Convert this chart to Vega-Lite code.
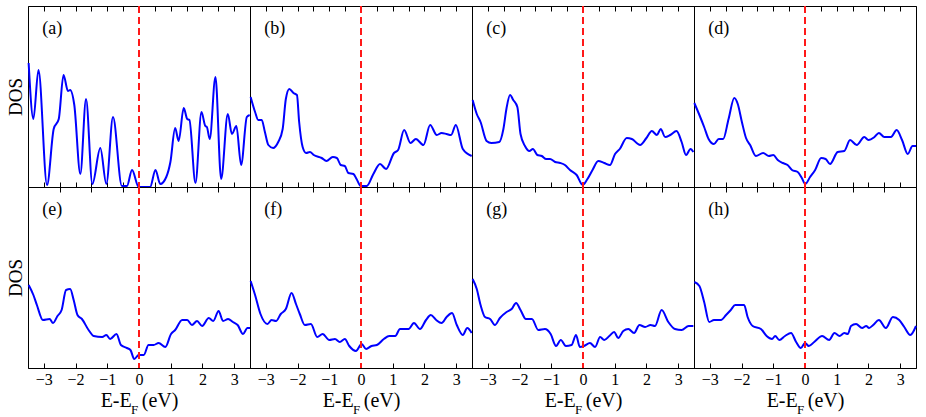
{
"$schema": "https://vega.github.io/schema/vega-lite/v6.json",
"padding": {"left": 5, "top": 4, "right": 8, "bottom": 5},
"background": "white",
"bounds": "flush",
"columns": 4,
"spacing": 0,
"config": {
  "font": "Liberation Serif",
  "view": {"stroke": "#000", "strokeWidth": 1},
  "concat": {"spacing": 0},
  "axis": {"labelFont": "Liberation Serif", "titleFont": "Liberation Serif", "labelColor": "#000", "titleColor": "#000", "titleFontWeight": "normal", "domainColor": "#000", "tickColor": "#000", "grid": false},
  "line": {"color": "#0000ff", "strokeWidth": 2, "interpolate": "monotone", "clip": true},
  "rule": {"color": "#ff1a1a", "strokeDash": [7, 4], "strokeWidth": 1.5},
  "text": {"font": "Liberation Serif", "color": "#000"}
},
"data": {"name": "dos"},
"datasets": {
"dos": [
{"panel":"(a)","E":-3.48,"DOS":124},{"panel":"(a)","E":-3.33,"DOS":68},{"panel":"(a)","E":-3.17,"DOS":117},{"panel":"(a)","E":-2.9,"DOS":2},{"panel":"(a)","E":-2.69,"DOS":58},{"panel":"(a)","E":-2.53,"DOS":68},{"panel":"(a)","E":-2.38,"DOS":112},{"panel":"(a)","E":-2.24,"DOS":96},{"panel":"(a)","E":-2.17,"DOS":97},{"panel":"(a)","E":-2.04,"DOS":82},{"panel":"(a)","E":-1.85,"DOS":13},{"panel":"(a)","E":-1.67,"DOS":88},{"panel":"(a)","E":-1.47,"DOS":3},{"panel":"(a)","E":-1.22,"DOS":39},{"panel":"(a)","E":-1.03,"DOS":3},{"panel":"(a)","E":-0.82,"DOS":70},{"panel":"(a)","E":-0.54,"DOS":1},{"panel":"(a)","E":-0.38,"DOS":1},{"panel":"(a)","E":-0.22,"DOS":17},{"panel":"(a)","E":-0.01,"DOS":0},{"panel":"(a)","E":0.35,"DOS":0},{"panel":"(a)","E":0.52,"DOS":17},{"panel":"(a)","E":0.67,"DOS":3},{"panel":"(a)","E":0.86,"DOS":10},{"panel":"(a)","E":0.99,"DOS":25},{"panel":"(a)","E":1.14,"DOS":59},{"panel":"(a)","E":1.25,"DOS":46},{"panel":"(a)","E":1.41,"DOS":79},{"panel":"(a)","E":1.52,"DOS":68},{"panel":"(a)","E":1.59,"DOS":67},{"panel":"(a)","E":1.78,"DOS":4},{"panel":"(a)","E":1.97,"DOS":75},{"panel":"(a)","E":2.09,"DOS":61},{"panel":"(a)","E":2.14,"DOS":60},{"panel":"(a)","E":2.23,"DOS":48},{"panel":"(a)","E":2.41,"DOS":110},{"panel":"(a)","E":2.59,"DOS":8},{"panel":"(a)","E":2.8,"DOS":73},{"panel":"(a)","E":2.93,"DOS":53},{"panel":"(a)","E":3.07,"DOS":61},{"panel":"(a)","E":3.22,"DOS":22},{"panel":"(a)","E":3.4,"DOS":70},{"panel":"(a)","E":3.49,"DOS":72},
{"panel":"(b)","E":-3.48,"DOS":90},{"panel":"(b)","E":-3.34,"DOS":75},{"panel":"(b)","E":-3.24,"DOS":67},{"panel":"(b)","E":-3.13,"DOS":67},{"panel":"(b)","E":-3.03,"DOS":55},{"panel":"(b)","E":-2.92,"DOS":42},{"panel":"(b)","E":-2.77,"DOS":39},{"panel":"(b)","E":-2.61,"DOS":45},{"panel":"(b)","E":-2.47,"DOS":58},{"panel":"(b)","E":-2.37,"DOS":88},{"panel":"(b)","E":-2.26,"DOS":98},{"panel":"(b)","E":-2.13,"DOS":94},{"panel":"(b)","E":-2.02,"DOS":92},{"panel":"(b)","E":-1.95,"DOS":65},{"panel":"(b)","E":-1.84,"DOS":40},{"panel":"(b)","E":-1.73,"DOS":34},{"panel":"(b)","E":-1.61,"DOS":35},{"panel":"(b)","E":-1.49,"DOS":32},{"panel":"(b)","E":-1.24,"DOS":29},{"panel":"(b)","E":-1.09,"DOS":26},{"panel":"(b)","E":-0.89,"DOS":30},{"panel":"(b)","E":-0.76,"DOS":29},{"panel":"(b)","E":-0.64,"DOS":22},{"panel":"(b)","E":-0.51,"DOS":21},{"panel":"(b)","E":-0.4,"DOS":14},{"panel":"(b)","E":-0.24,"DOS":13},{"panel":"(b)","E":-0.14,"DOS":8},{"panel":"(b)","E":-0.01,"DOS":1},{"panel":"(b)","E":0.18,"DOS":1},{"panel":"(b)","E":0.39,"DOS":13},{"panel":"(b)","E":0.6,"DOS":23},{"panel":"(b)","E":0.79,"DOS":18},{"panel":"(b)","E":1.04,"DOS":34},{"panel":"(b)","E":1.17,"DOS":37},{"panel":"(b)","E":1.36,"DOS":57},{"panel":"(b)","E":1.56,"DOS":44},{"panel":"(b)","E":1.73,"DOS":48},{"panel":"(b)","E":1.97,"DOS":42},{"panel":"(b)","E":2.18,"DOS":62},{"panel":"(b)","E":2.39,"DOS":52},{"panel":"(b)","E":2.54,"DOS":54},{"panel":"(b)","E":2.7,"DOS":53},{"panel":"(b)","E":2.84,"DOS":52},{"panel":"(b)","E":2.99,"DOS":62},{"panel":"(b)","E":3.21,"DOS":38},{"panel":"(b)","E":3.49,"DOS":31},
{"panel":"(c)","E":-3.48,"DOS":87},{"panel":"(c)","E":-3.35,"DOS":73},{"panel":"(c)","E":-3.23,"DOS":65},{"panel":"(c)","E":-3.04,"DOS":46},{"panel":"(c)","E":-2.89,"DOS":44},{"panel":"(c)","E":-2.64,"DOS":45},{"panel":"(c)","E":-2.51,"DOS":58},{"panel":"(c)","E":-2.41,"DOS":79},{"panel":"(c)","E":-2.3,"DOS":92},{"panel":"(c)","E":-2.2,"DOS":87},{"panel":"(c)","E":-2.07,"DOS":80},{"panel":"(c)","E":-1.97,"DOS":53},{"panel":"(c)","E":-1.83,"DOS":41},{"panel":"(c)","E":-1.69,"DOS":36},{"panel":"(c)","E":-1.58,"DOS":38},{"panel":"(c)","E":-1.44,"DOS":32},{"panel":"(c)","E":-1.3,"DOS":31},{"panel":"(c)","E":-1.16,"DOS":28},{"panel":"(c)","E":-1.04,"DOS":28},{"panel":"(c)","E":-0.88,"DOS":25},{"panel":"(c)","E":-0.72,"DOS":24},{"panel":"(c)","E":-0.57,"DOS":22},{"panel":"(c)","E":-0.41,"DOS":17},{"panel":"(c)","E":-0.2,"DOS":12},{"panel":"(c)","E":-0.01,"DOS":2},{"panel":"(c)","E":0.12,"DOS":7},{"panel":"(c)","E":0.3,"DOS":17},{"panel":"(c)","E":0.48,"DOS":26},{"panel":"(c)","E":0.67,"DOS":24},{"panel":"(c)","E":0.85,"DOS":22},{"panel":"(c)","E":1.01,"DOS":33},{"panel":"(c)","E":1.16,"DOS":38},{"panel":"(c)","E":1.38,"DOS":49},{"panel":"(c)","E":1.54,"DOS":48},{"panel":"(c)","E":1.8,"DOS":42},{"panel":"(c)","E":2.0,"DOS":49},{"panel":"(c)","E":2.17,"DOS":56},{"panel":"(c)","E":2.33,"DOS":52},{"panel":"(c)","E":2.45,"DOS":58},{"panel":"(c)","E":2.59,"DOS":50},{"panel":"(c)","E":2.75,"DOS":52},{"panel":"(c)","E":2.95,"DOS":56},{"panel":"(c)","E":3.11,"DOS":45},{"panel":"(c)","E":3.25,"DOS":32},{"panel":"(c)","E":3.39,"DOS":38},{"panel":"(c)","E":3.48,"DOS":35},
{"panel":"(d)","E":-3.49,"DOS":84},{"panel":"(d)","E":-3.33,"DOS":72},{"panel":"(d)","E":-3.18,"DOS":60},{"panel":"(d)","E":-3.04,"DOS":48},{"panel":"(d)","E":-2.87,"DOS":43},{"panel":"(d)","E":-2.72,"DOS":48},{"panel":"(d)","E":-2.58,"DOS":48},{"panel":"(d)","E":-2.41,"DOS":68},{"panel":"(d)","E":-2.23,"DOS":89},{"panel":"(d)","E":-2.12,"DOS":83},{"panel":"(d)","E":-1.99,"DOS":65},{"panel":"(d)","E":-1.86,"DOS":49},{"panel":"(d)","E":-1.73,"DOS":42},{"panel":"(d)","E":-1.55,"DOS":31},{"panel":"(d)","E":-1.32,"DOS":34},{"panel":"(d)","E":-1.14,"DOS":31},{"panel":"(d)","E":-1.0,"DOS":32},{"panel":"(d)","E":-0.86,"DOS":27},{"panel":"(d)","E":-0.7,"DOS":24},{"panel":"(d)","E":-0.55,"DOS":22},{"panel":"(d)","E":-0.41,"DOS":17},{"panel":"(d)","E":-0.23,"DOS":15},{"panel":"(d)","E":-0.1,"DOS":9},{"panel":"(d)","E":0.01,"DOS":3},{"panel":"(d)","E":0.16,"DOS":10},{"panel":"(d)","E":0.32,"DOS":17},{"panel":"(d)","E":0.51,"DOS":29},{"panel":"(d)","E":0.65,"DOS":28},{"panel":"(d)","E":0.79,"DOS":23},{"panel":"(d)","E":1.03,"DOS":35},{"panel":"(d)","E":1.24,"DOS":36},{"panel":"(d)","E":1.42,"DOS":47},{"panel":"(d)","E":1.63,"DOS":42},{"panel":"(d)","E":1.87,"DOS":50},{"panel":"(d)","E":2.0,"DOS":47},{"panel":"(d)","E":2.19,"DOS":50},{"panel":"(d)","E":2.33,"DOS":54},{"panel":"(d)","E":2.5,"DOS":50},{"panel":"(d)","E":2.71,"DOS":50},{"panel":"(d)","E":2.89,"DOS":57},{"panel":"(d)","E":3.06,"DOS":47},{"panel":"(d)","E":3.24,"DOS":33},{"panel":"(d)","E":3.39,"DOS":41},{"panel":"(d)","E":3.5,"DOS":41},
{"panel":"(e)","E":-3.48,"DOS":83},{"panel":"(e)","E":-3.33,"DOS":73},{"panel":"(e)","E":-3.22,"DOS":63},{"panel":"(e)","E":-3.03,"DOS":48},{"panel":"(e)","E":-2.82,"DOS":49},{"panel":"(e)","E":-2.71,"DOS":45},{"panel":"(e)","E":-2.57,"DOS":52},{"panel":"(e)","E":-2.44,"DOS":58},{"panel":"(e)","E":-2.3,"DOS":78},{"panel":"(e)","E":-2.17,"DOS":79},{"panel":"(e)","E":-2.06,"DOS":68},{"panel":"(e)","E":-1.94,"DOS":53},{"panel":"(e)","E":-1.8,"DOS":49},{"panel":"(e)","E":-1.59,"DOS":38},{"panel":"(e)","E":-1.43,"DOS":32},{"panel":"(e)","E":-1.16,"DOS":31},{"panel":"(e)","E":-1.03,"DOS":33},{"panel":"(e)","E":-0.91,"DOS":29},{"panel":"(e)","E":-0.71,"DOS":34},{"panel":"(e)","E":-0.57,"DOS":23},{"panel":"(e)","E":-0.38,"DOS":20},{"panel":"(e)","E":-0.27,"DOS":18},{"panel":"(e)","E":-0.15,"DOS":9},{"panel":"(e)","E":-0.01,"DOS":13},{"panel":"(e)","E":0.15,"DOS":13},{"panel":"(e)","E":0.3,"DOS":23},{"panel":"(e)","E":0.46,"DOS":23},{"panel":"(e)","E":0.62,"DOS":25},{"panel":"(e)","E":0.83,"DOS":21},{"panel":"(e)","E":1.01,"DOS":34},{"panel":"(e)","E":1.14,"DOS":38},{"panel":"(e)","E":1.36,"DOS":48},{"panel":"(e)","E":1.52,"DOS":48},{"panel":"(e)","E":1.67,"DOS":43},{"panel":"(e)","E":1.83,"DOS":47},{"panel":"(e)","E":1.99,"DOS":42},{"panel":"(e)","E":2.2,"DOS":50},{"panel":"(e)","E":2.34,"DOS":47},{"panel":"(e)","E":2.51,"DOS":57},{"panel":"(e)","E":2.65,"DOS":47},{"panel":"(e)","E":2.81,"DOS":49},{"panel":"(e)","E":2.96,"DOS":46},{"panel":"(e)","E":3.11,"DOS":43},{"panel":"(e)","E":3.28,"DOS":34},{"panel":"(e)","E":3.42,"DOS":40},{"panel":"(e)","E":3.5,"DOS":40},
{"panel":"(f)","E":-3.48,"DOS":87},{"panel":"(f)","E":-3.34,"DOS":73},{"panel":"(f)","E":-3.17,"DOS":54},{"panel":"(f)","E":-2.95,"DOS":44},{"panel":"(f)","E":-2.82,"DOS":48},{"panel":"(f)","E":-2.68,"DOS":47},{"panel":"(f)","E":-2.53,"DOS":54},{"panel":"(f)","E":-2.37,"DOS":59},{"panel":"(f)","E":-2.19,"DOS":75},{"panel":"(f)","E":-2.05,"DOS":64},{"panel":"(f)","E":-1.93,"DOS":54},{"panel":"(f)","E":-1.77,"DOS":43},{"panel":"(f)","E":-1.58,"DOS":44},{"panel":"(f)","E":-1.38,"DOS":31},{"panel":"(f)","E":-1.21,"DOS":34},{"panel":"(f)","E":-1.0,"DOS":28},{"panel":"(f)","E":-0.82,"DOS":29},{"panel":"(f)","E":-0.67,"DOS":26},{"panel":"(f)","E":-0.51,"DOS":29},{"panel":"(f)","E":-0.37,"DOS":22},{"panel":"(f)","E":-0.16,"DOS":17},{"panel":"(f)","E":0.02,"DOS":24},{"panel":"(f)","E":0.16,"DOS":19},{"panel":"(f)","E":0.33,"DOS":22},{"panel":"(f)","E":0.5,"DOS":23},{"panel":"(f)","E":0.72,"DOS":29},{"panel":"(f)","E":0.89,"DOS":32},{"panel":"(f)","E":1.08,"DOS":32},{"panel":"(f)","E":1.23,"DOS":39},{"panel":"(f)","E":1.39,"DOS":39},{"panel":"(f)","E":1.5,"DOS":39},{"panel":"(f)","E":1.67,"DOS":45},{"panel":"(f)","E":1.86,"DOS":39},{"panel":"(f)","E":2.05,"DOS":48},{"panel":"(f)","E":2.2,"DOS":53},{"panel":"(f)","E":2.37,"DOS":48},{"panel":"(f)","E":2.54,"DOS":45},{"panel":"(f)","E":2.7,"DOS":51},{"panel":"(f)","E":2.87,"DOS":55},{"panel":"(f)","E":3.02,"DOS":43},{"panel":"(f)","E":3.21,"DOS":33},{"panel":"(f)","E":3.35,"DOS":40},{"panel":"(f)","E":3.49,"DOS":35},
{"panel":"(g)","E":-3.48,"DOS":89},{"panel":"(g)","E":-3.35,"DOS":79},{"panel":"(g)","E":-3.23,"DOS":63},{"panel":"(g)","E":-3.09,"DOS":51},{"panel":"(g)","E":-2.93,"DOS":49},{"panel":"(g)","E":-2.78,"DOS":43},{"panel":"(g)","E":-2.62,"DOS":50},{"panel":"(g)","E":-2.41,"DOS":56},{"panel":"(g)","E":-2.25,"DOS":59},{"panel":"(g)","E":-2.11,"DOS":65},{"panel":"(g)","E":-1.97,"DOS":58},{"panel":"(g)","E":-1.8,"DOS":49},{"panel":"(g)","E":-1.61,"DOS":49},{"panel":"(g)","E":-1.41,"DOS":38},{"panel":"(g)","E":-1.2,"DOS":39},{"panel":"(g)","E":-1.02,"DOS":34},{"panel":"(g)","E":-0.85,"DOS":22},{"panel":"(g)","E":-0.7,"DOS":28},{"panel":"(g)","E":-0.54,"DOS":22},{"panel":"(g)","E":-0.36,"DOS":23},{"panel":"(g)","E":-0.22,"DOS":33},{"panel":"(g)","E":-0.1,"DOS":21},{"panel":"(g)","E":0.03,"DOS":22},{"panel":"(g)","E":0.22,"DOS":25},{"panel":"(g)","E":0.38,"DOS":21},{"panel":"(g)","E":0.54,"DOS":31},{"panel":"(g)","E":0.67,"DOS":28},{"panel":"(g)","E":0.83,"DOS":32},{"panel":"(g)","E":0.98,"DOS":36},{"panel":"(g)","E":1.11,"DOS":30},{"panel":"(g)","E":1.27,"DOS":37},{"panel":"(g)","E":1.43,"DOS":39},{"panel":"(g)","E":1.61,"DOS":35},{"panel":"(g)","E":1.78,"DOS":43},{"panel":"(g)","E":1.96,"DOS":41},{"panel":"(g)","E":2.13,"DOS":43},{"panel":"(g)","E":2.27,"DOS":42},{"panel":"(g)","E":2.48,"DOS":58},{"panel":"(g)","E":2.69,"DOS":46},{"panel":"(g)","E":2.9,"DOS":39},{"panel":"(g)","E":3.11,"DOS":38},{"panel":"(g)","E":3.33,"DOS":42},{"panel":"(g)","E":3.48,"DOS":42},
{"panel":"(h)","E":-3.49,"DOS":86},{"panel":"(h)","E":-3.33,"DOS":82},{"panel":"(h)","E":-3.18,"DOS":66},{"panel":"(h)","E":-3.02,"DOS":46},{"panel":"(h)","E":-2.87,"DOS":48},{"panel":"(h)","E":-2.65,"DOS":48},{"panel":"(h)","E":-2.49,"DOS":53},{"panel":"(h)","E":-2.34,"DOS":58},{"panel":"(h)","E":-2.2,"DOS":63},{"panel":"(h)","E":-2.05,"DOS":63},{"panel":"(h)","E":-1.92,"DOS":63},{"panel":"(h)","E":-1.81,"DOS":51},{"panel":"(h)","E":-1.65,"DOS":42},{"panel":"(h)","E":-1.39,"DOS":39},{"panel":"(h)","E":-1.21,"DOS":32},{"panel":"(h)","E":-1.04,"DOS":29},{"panel":"(h)","E":-0.94,"DOS":32},{"panel":"(h)","E":-0.81,"DOS":28},{"panel":"(h)","E":-0.63,"DOS":32},{"panel":"(h)","E":-0.44,"DOS":35},{"panel":"(h)","E":-0.28,"DOS":26},{"panel":"(h)","E":-0.13,"DOS":20},{"panel":"(h)","E":0.0,"DOS":25},{"panel":"(h)","E":0.12,"DOS":22},{"panel":"(h)","E":0.29,"DOS":26},{"panel":"(h)","E":0.54,"DOS":32},{"panel":"(h)","E":0.76,"DOS":28},{"panel":"(h)","E":0.93,"DOS":35},{"panel":"(h)","E":1.09,"DOS":32},{"panel":"(h)","E":1.24,"DOS":35},{"panel":"(h)","E":1.35,"DOS":34},{"panel":"(h)","E":1.45,"DOS":42},{"panel":"(h)","E":1.61,"DOS":44},{"panel":"(h)","E":1.8,"DOS":40},{"panel":"(h)","E":1.93,"DOS":42},{"panel":"(h)","E":2.02,"DOS":40},{"panel":"(h)","E":2.15,"DOS":43},{"panel":"(h)","E":2.33,"DOS":48},{"panel":"(h)","E":2.55,"DOS":40},{"panel":"(h)","E":2.77,"DOS":51},{"panel":"(h)","E":2.97,"DOS":48},{"panel":"(h)","E":3.13,"DOS":41},{"panel":"(h)","E":3.32,"DOS":33},{"panel":"(h)","E":3.5,"DOS":42}
]
},
"concat": [
 {"width": 222, "height": 181, "transform": [{"filter": {"field": "panel", "equal": "(a)"}}],
  "layer": [
   {"mark": "line", "encoding": {
     "x": {"field": "E", "type": "quantitative", "scale": {"domain": [-3.5, 3.5], "nice": false, "zero": false}, "axis": {"title": null, "labels": false, "values": [-3,-2.5,-2,-1.5,-1,-0.5,0,0.5,1,1.5,2,2.5,3], "tickSize": -5}},
     "y": {"field": "DOS", "type": "quantitative", "scale": {"domain": [0, 181], "nice": false}, "axis": {"title": "DOS", "labels": false, "ticks": false, "domain": false, "titleFontSize": 19, "titlePadding": 3}}}},
   {"mark": "rule", "encoding": {"x": {"datum": 0, "type": "quantitative", "axis": {"orient": "top", "title": null, "labels": false, "values": [-3,-2.5,-2,-1.5,-1,-0.5,0,0.5,1,1.5,2,2.5,3], "tickSize": -5}}}},
   {"transform": [{"aggregate": [{"op": "count", "as": "n"}], "groupby": ["panel"]}], "mark": {"type": "text", "align": "left", "baseline": "middle", "fontSize": 18},
    "encoding": {"x": {"datum": -3.05, "type": "quantitative", "axis": null}, "y": {"datum": 158, "type": "quantitative"}, "text": {"field": "panel"}}}
  ], "resolve": {"axis": {"x": "independent"}}},
 {"width": 222, "height": 181, "transform": [{"filter": {"field": "panel", "equal": "(b)"}}],
  "layer": [
   {"mark": "line", "encoding": {
     "x": {"field": "E", "type": "quantitative", "scale": {"domain": [-3.5, 3.5], "nice": false, "zero": false}, "axis": {"title": null, "labels": false, "values": [-3,-2.5,-2,-1.5,-1,-0.5,0,0.5,1,1.5,2,2.5,3], "tickSize": -5}},
     "y": {"field": "DOS", "type": "quantitative", "scale": {"domain": [0, 181], "nice": false}, "axis": null}}},
   {"mark": "rule", "encoding": {"x": {"datum": 0, "type": "quantitative", "axis": {"orient": "top", "title": null, "labels": false, "values": [-3,-2.5,-2,-1.5,-1,-0.5,0,0.5,1,1.5,2,2.5,3], "tickSize": -5}}}},
   {"transform": [{"aggregate": [{"op": "count", "as": "n"}], "groupby": ["panel"]}], "mark": {"type": "text", "align": "left", "baseline": "middle", "fontSize": 18},
    "encoding": {"x": {"datum": -3.05, "type": "quantitative", "axis": null}, "y": {"datum": 158, "type": "quantitative"}, "text": {"field": "panel"}}}
  ], "resolve": {"axis": {"x": "independent"}}},
 {"width": 222, "height": 181, "transform": [{"filter": {"field": "panel", "equal": "(c)"}}],
  "layer": [
   {"mark": "line", "encoding": {
     "x": {"field": "E", "type": "quantitative", "scale": {"domain": [-3.5, 3.5], "nice": false, "zero": false}, "axis": {"title": null, "labels": false, "values": [-3,-2.5,-2,-1.5,-1,-0.5,0,0.5,1,1.5,2,2.5,3], "tickSize": -5}},
     "y": {"field": "DOS", "type": "quantitative", "scale": {"domain": [0, 181], "nice": false}, "axis": null}}},
   {"mark": "rule", "encoding": {"x": {"datum": 0, "type": "quantitative", "axis": {"orient": "top", "title": null, "labels": false, "values": [-3,-2.5,-2,-1.5,-1,-0.5,0,0.5,1,1.5,2,2.5,3], "tickSize": -5}}}},
   {"transform": [{"aggregate": [{"op": "count", "as": "n"}], "groupby": ["panel"]}], "mark": {"type": "text", "align": "left", "baseline": "middle", "fontSize": 18},
    "encoding": {"x": {"datum": -3.05, "type": "quantitative", "axis": null}, "y": {"datum": 158, "type": "quantitative"}, "text": {"field": "panel"}}}
  ], "resolve": {"axis": {"x": "independent"}}},
 {"width": 222, "height": 181, "transform": [{"filter": {"field": "panel", "equal": "(d)"}}],
  "layer": [
   {"mark": "line", "encoding": {
     "x": {"field": "E", "type": "quantitative", "scale": {"domain": [-3.5, 3.5], "nice": false, "zero": false}, "axis": {"title": null, "labels": false, "values": [-3,-2.5,-2,-1.5,-1,-0.5,0,0.5,1,1.5,2,2.5,3], "tickSize": -5}},
     "y": {"field": "DOS", "type": "quantitative", "scale": {"domain": [0, 181], "nice": false}, "axis": null}}},
   {"mark": "rule", "encoding": {"x": {"datum": 0, "type": "quantitative", "axis": {"orient": "top", "title": null, "labels": false, "values": [-3,-2.5,-2,-1.5,-1,-0.5,0,0.5,1,1.5,2,2.5,3], "tickSize": -5}}}},
   {"transform": [{"aggregate": [{"op": "count", "as": "n"}], "groupby": ["panel"]}], "mark": {"type": "text", "align": "left", "baseline": "middle", "fontSize": 18},
    "encoding": {"x": {"datum": -3.05, "type": "quantitative", "axis": null}, "y": {"datum": 158, "type": "quantitative"}, "text": {"field": "panel"}}}
  ], "resolve": {"axis": {"x": "independent"}}},
 {"width": 222, "height": 181, "transform": [{"filter": {"field": "panel", "equal": "(e)"}}],
  "layer": [
   {"mark": "line", "encoding": {
     "x": {"field": "E", "type": "quantitative", "scale": {"domain": [-3.5, 3.5], "nice": false, "zero": false}, "axis": {"title": "E-E\u00a0\u00a0(eV)", "titleFontSize": 20, "labelFontSize": 16, "labelPadding": 8, "titlePadding": 3, "labelFlush": false, "labelOverlap": false, "values": [-3,-2,-1,0,1,2,3], "tickSize": -5}},
     "y": {"field": "DOS", "type": "quantitative", "scale": {"domain": [0, 181], "nice": false}, "axis": {"title": "DOS", "labels": false, "ticks": false, "domain": false, "titleFontSize": 19, "titlePadding": 3}}}},
   {"mark": "rule", "encoding": {"x": {"datum": 0, "type": "quantitative", "axis": {"title": null, "labels": false, "domain": false, "values": [-2.5,-1.5,-0.5,0.5,1.5,2.5], "tickSize": -5}}}},
   {"transform": [{"aggregate": [{"op": "count", "as": "n"}], "groupby": ["panel"]}], "mark": {"type": "text", "align": "left", "baseline": "middle", "fontSize": 18},
    "encoding": {"x": {"datum": -3.05, "type": "quantitative", "axis": null}, "y": {"datum": 158, "type": "quantitative"}, "text": {"field": "panel"}}},
   {"transform": [{"aggregate": [{"op": "count", "as": "n"}], "groupby": ["panel"]}], "mark": {"type": "text", "align": "left", "baseline": "alphabetic", "fontSize": 13, "dy": 46},
    "encoding": {"x": {"datum": -0.25, "type": "quantitative", "axis": null}, "y": {"datum": 0, "type": "quantitative"}, "text": {"value": "F"}}}
  ], "resolve": {"axis": {"x": "independent"}}},
 {"width": 222, "height": 181, "transform": [{"filter": {"field": "panel", "equal": "(f)"}}],
  "layer": [
   {"mark": "line", "encoding": {
     "x": {"field": "E", "type": "quantitative", "scale": {"domain": [-3.5, 3.5], "nice": false, "zero": false}, "axis": {"title": "E-E\u00a0\u00a0(eV)", "titleFontSize": 20, "labelFontSize": 16, "labelPadding": 8, "titlePadding": 3, "labelFlush": false, "labelOverlap": false, "values": [-3,-2,-1,0,1,2,3], "tickSize": -5}},
     "y": {"field": "DOS", "type": "quantitative", "scale": {"domain": [0, 181], "nice": false}, "axis": null}}},
   {"mark": "rule", "encoding": {"x": {"datum": 0, "type": "quantitative", "axis": {"title": null, "labels": false, "domain": false, "values": [-2.5,-1.5,-0.5,0.5,1.5,2.5], "tickSize": -5}}}},
   {"transform": [{"aggregate": [{"op": "count", "as": "n"}], "groupby": ["panel"]}], "mark": {"type": "text", "align": "left", "baseline": "middle", "fontSize": 18},
    "encoding": {"x": {"datum": -3.05, "type": "quantitative", "axis": null}, "y": {"datum": 158, "type": "quantitative"}, "text": {"field": "panel"}}},
   {"transform": [{"aggregate": [{"op": "count", "as": "n"}], "groupby": ["panel"]}], "mark": {"type": "text", "align": "left", "baseline": "alphabetic", "fontSize": 13, "dy": 46},
    "encoding": {"x": {"datum": -0.25, "type": "quantitative", "axis": null}, "y": {"datum": 0, "type": "quantitative"}, "text": {"value": "F"}}}
  ], "resolve": {"axis": {"x": "independent"}}},
 {"width": 222, "height": 181, "transform": [{"filter": {"field": "panel", "equal": "(g)"}}],
  "layer": [
   {"mark": "line", "encoding": {
     "x": {"field": "E", "type": "quantitative", "scale": {"domain": [-3.5, 3.5], "nice": false, "zero": false}, "axis": {"title": "E-E\u00a0\u00a0(eV)", "titleFontSize": 20, "labelFontSize": 16, "labelPadding": 8, "titlePadding": 3, "labelFlush": false, "labelOverlap": false, "values": [-3,-2,-1,0,1,2,3], "tickSize": -5}},
     "y": {"field": "DOS", "type": "quantitative", "scale": {"domain": [0, 181], "nice": false}, "axis": null}}},
   {"mark": "rule", "encoding": {"x": {"datum": 0, "type": "quantitative", "axis": {"title": null, "labels": false, "domain": false, "values": [-2.5,-1.5,-0.5,0.5,1.5,2.5], "tickSize": -5}}}},
   {"transform": [{"aggregate": [{"op": "count", "as": "n"}], "groupby": ["panel"]}], "mark": {"type": "text", "align": "left", "baseline": "middle", "fontSize": 18},
    "encoding": {"x": {"datum": -3.05, "type": "quantitative", "axis": null}, "y": {"datum": 158, "type": "quantitative"}, "text": {"field": "panel"}}},
   {"transform": [{"aggregate": [{"op": "count", "as": "n"}], "groupby": ["panel"]}], "mark": {"type": "text", "align": "left", "baseline": "alphabetic", "fontSize": 13, "dy": 46},
    "encoding": {"x": {"datum": -0.25, "type": "quantitative", "axis": null}, "y": {"datum": 0, "type": "quantitative"}, "text": {"value": "F"}}}
  ], "resolve": {"axis": {"x": "independent"}}},
 {"width": 222, "height": 181, "transform": [{"filter": {"field": "panel", "equal": "(h)"}}],
  "layer": [
   {"mark": "line", "encoding": {
     "x": {"field": "E", "type": "quantitative", "scale": {"domain": [-3.5, 3.5], "nice": false, "zero": false}, "axis": {"title": "E-E\u00a0\u00a0(eV)", "titleFontSize": 20, "labelFontSize": 16, "labelPadding": 8, "titlePadding": 3, "labelFlush": false, "labelOverlap": false, "values": [-3,-2,-1,0,1,2,3], "tickSize": -5}},
     "y": {"field": "DOS", "type": "quantitative", "scale": {"domain": [0, 181], "nice": false}, "axis": null}}},
   {"mark": "rule", "encoding": {"x": {"datum": 0, "type": "quantitative", "axis": {"title": null, "labels": false, "domain": false, "values": [-2.5,-1.5,-0.5,0.5,1.5,2.5], "tickSize": -5}}}},
   {"transform": [{"aggregate": [{"op": "count", "as": "n"}], "groupby": ["panel"]}], "mark": {"type": "text", "align": "left", "baseline": "middle", "fontSize": 18},
    "encoding": {"x": {"datum": -3.05, "type": "quantitative", "axis": null}, "y": {"datum": 158, "type": "quantitative"}, "text": {"field": "panel"}}},
   {"transform": [{"aggregate": [{"op": "count", "as": "n"}], "groupby": ["panel"]}], "mark": {"type": "text", "align": "left", "baseline": "alphabetic", "fontSize": 13, "dy": 46},
    "encoding": {"x": {"datum": -0.25, "type": "quantitative", "axis": null}, "y": {"datum": 0, "type": "quantitative"}, "text": {"value": "F"}}}
  ], "resolve": {"axis": {"x": "independent"}}}
]
}
